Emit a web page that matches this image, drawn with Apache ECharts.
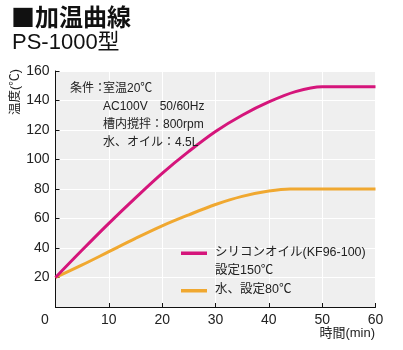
<!DOCTYPE html>
<html><head><meta charset="utf-8">
<script src="https://cdn.jsdelivr.net/npm/echarts@6/dist/echarts.min.js"></script>
<style>html,body{margin:0;padding:0;background:#fff}#c{width:403px;height:350px}</style>
</head><body><div id="c"></div>
<script>
// Data
const oilTime  = [0, 5, 10, 15, 20, 25, 30, 35, 40, 45, 50, 55, 60];
const oilTemp  = [20, 38.6, 56.7, 74, 90.6, 105.5, 119, 130, 139, 146, 149.3, 149.3, 149.3];
const waterTime = [0, 5, 10, 15, 20, 25, 30, 35, 40, 44, 50, 60];
const waterTemp = [20, 28.5, 37.5, 46.5, 55, 62.5, 69.5, 75, 78.6, 80, 80, 80];
const xTicks = [0, 10, 20, 30, 40, 50, 60];
const yTicks = [0, 20, 40, 60, 80, 100, 120, 140, 160];
const oilName = 'シリコンオイル(KF96-100)';
const oilName2 = '設定150℃';
const waterName = '水、設定80℃';
const condLines = [['条件：', '室温20℃'], ['', 'AC100V　50/60Hz'], ['', '槽内撹拌：800rpm'], ['', '水、オイル：4.5L']];

const FONT = '"Liberation Sans", "Noto Sans CJK JP", sans-serif';
const CJK = '"Noto Sans CJK JP", "Liberation Sans", sans-serif';
const MAG = '#d5157b';
const ORG = '#f0a830';

const chart = echarts.init(document.getElementById('c'));
const pairs = (xs, ys) => xs.map((x, i) => [x, ys[i]]);

function txt(x, y, text, font, extra, fam) {
  return Object.assign({type:'text', x:x, y:y, z:100,
    style:Object.assign({text:text, font:font + ' ' + (fam || FONT), fill:'#222', verticalAlign:'middle', textVerticalAlign:'middle'}, (extra && extra.style) || {})},
    extra && extra.rotation !== undefined ? {rotation:extra.rotation} : {});
}

const graphics = [
  txt(11, 17, '■加温曲線', 'bold 24px', {style:{fill:'#111'}}, CJK),
  txt(12, 43, 'PS-1000型', '22px', {style:{fill:'#111'}}),
  txt(16, 92, '温度(℃)', '12.5px', {rotation:Math.PI/2, style:{align:'center', textAlign:'center'}}),
  txt(375, 333, '時間(min)', '13px', {style:{align:'right', textAlign:'right'}}),
  {type:'rect', z:100, shape:{x:181, y:251.5, width:26, height:3.5}, style:{fill:MAG}},
  txt(215, 253, oilName, '12.5px'),
  txt(215, 271, oilName2, '12.5px'),
  {type:'rect', z:100, shape:{x:181, y:289, width:26, height:3.5}, style:{fill:ORG}},
  txt(215, 290, waterName, '12.5px')
];
condLines.forEach((l, i) => {
  const y = 89 + i * 18;
  if (l[0]) graphics.push(txt(70, y, l[0], '12px'));
  graphics.push(txt(103, y, l[1], '12px'));
});

chart.setOption({
  animation:false,
  textStyle:{fontFamily:FONT},
  grid:{left:55.5, top:71, width:320, height:236, show:true, backgroundColor:'#efefef', borderWidth:0},
  xAxis:{
    type:'value', min:xTicks[0], max:xTicks[xTicks.length-1], interval:10,
    axisLine:{lineStyle:{color:'#111', width:1}},
    axisTick:{inside:true, length:4, lineStyle:{color:'#111'}},
    axisLabel:{fontSize:14, color:'#222', margin:6,
      formatter: v => v === 0 ? '{o|0}' : String(v),
      rich:{o:{fontSize:14, color:'#222', padding:[0,21,0,0]}}},
    splitLine:{show:true, lineStyle:{color:'#ffffff', width:1}}
  },
  yAxis:{
    type:'value', min:yTicks[0], max:yTicks[yTicks.length-1], interval:20,
    axisLine:{show:true, lineStyle:{color:'#111', width:1}},
    axisTick:{show:true, inside:true, length:4, lineStyle:{color:'#111'}},
    axisLabel:{fontSize:14, color:'#222', margin:6, formatter: v => v === 0 ? '' : String(v)},
    splitLine:{show:true, lineStyle:{color:'#ffffff', width:1}}
  },
  series:[
    {type:'line', name:waterName, data:pairs(waterTime, waterTemp), smooth:0.35, showSymbol:false, lineStyle:{color:ORG, width:3}, z:3},
    {type:'line', name:oilName, data:pairs(oilTime, oilTemp), smooth:0.35, showSymbol:false, lineStyle:{color:MAG, width:3}, z:4}
  ],
  graphic:graphics
});
</script></body></html>
